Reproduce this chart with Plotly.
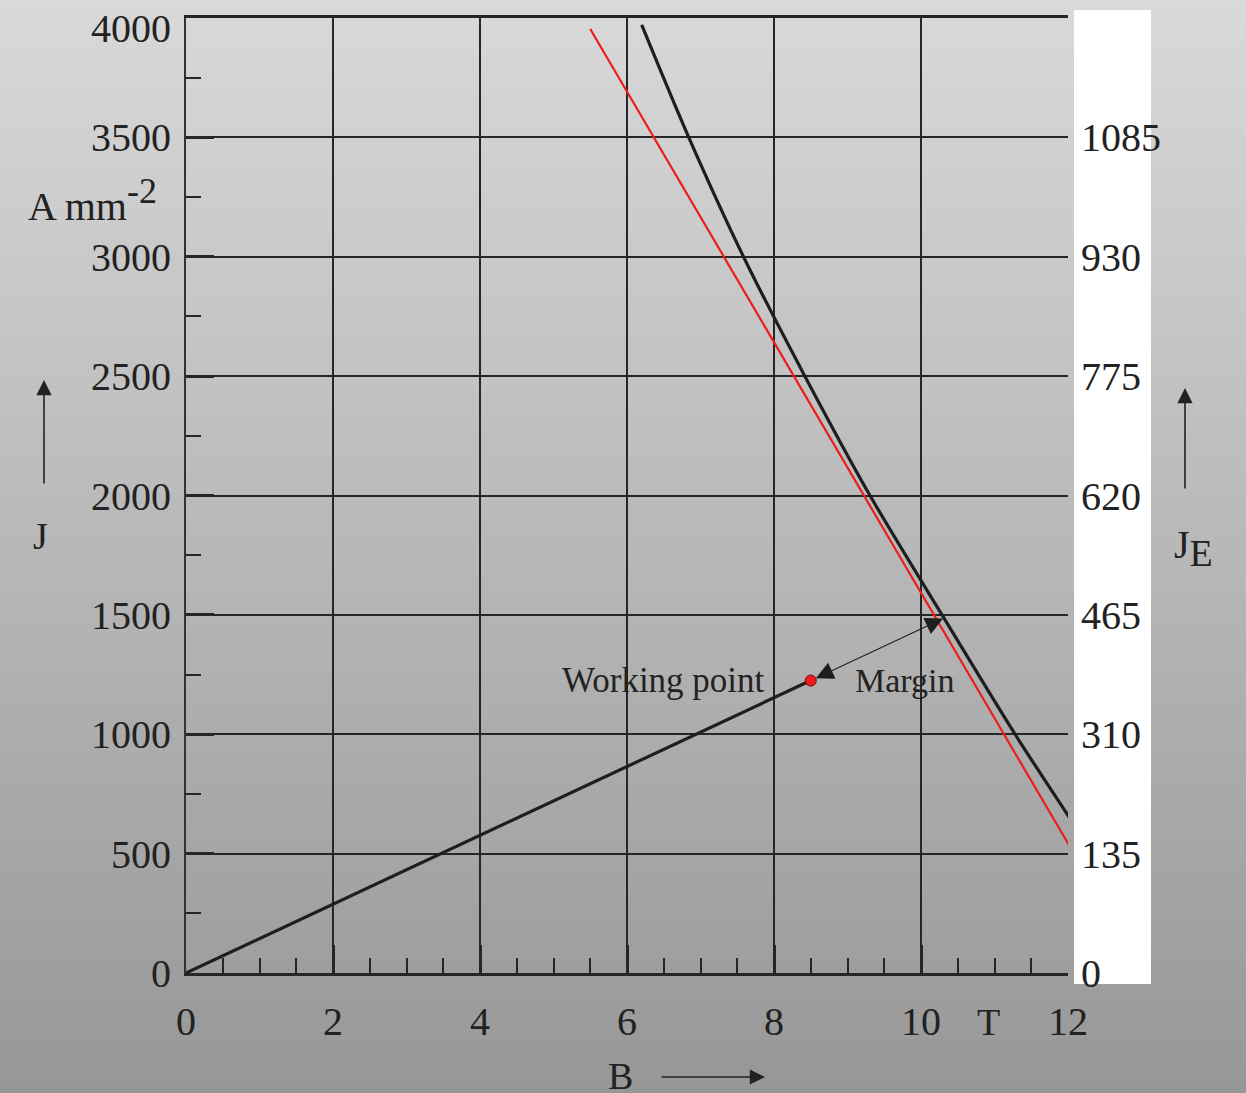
import numpy as np
import plotly.graph_objects as go

# ---------------- data ----------------
crit_B = [6.20, 6.84, 7.585, 8.42, 9.306, 10.286, 11.28, 12.07]
crit_J = [3971, 3500, 3000, 2500, 2000, 1500, 1000, 628]

approx_B = [5.50, 12.12]
approx_J = [3954, 480]

load_B = [0.0, 8.5]
load_J = [0.0, 1225.0]

work_B = 8.5
work_J = 1225.0

x_ticks = [0, 2, 4, 6, 8, 10, 12]
y_ticks = [0, 500, 1000, 1500, 2000, 2500, 3000, 3500, 4000]
je_ticks = [0, 500, 1000, 1500, 2000, 2500, 3000, 3500]
je_labels = ["0", "135", "310", "465", "620", "775", "930", "1085"]

# intersection of extended load line with critical curve
slope = load_J[1] / load_B[1]
bb = np.linspace(9.5, 11.0, 3001)
diff = np.interp(bb, crit_B, crit_J) - slope * bb
idx = np.argmin(np.abs(diff))
int_B = bb[idx]
int_J = slope * int_B

# ---------------- layout geometry ----------------
W, H = 1246, 1093
L, R, T, Bm = 186, 178, 18, 120
pw, ph = W - L - R, H - T - Bm


def px(x):
    return (x - L) / pw


def py(y):
    return (H - Bm - y) / ph


FONT = "Liberation Serif, Times New Roman, serif"
INK = "#222222"
TICKSIZE = 40

fig = go.Figure()

fig.add_trace(go.Scatter(x=approx_B, y=approx_J, mode="lines",
                         line=dict(color="#ee1c1c", width=2.2), showlegend=False))
fig.add_trace(go.Scatter(x=crit_B, y=crit_J, mode="lines", line_shape="spline",
                         line=dict(color="#1e1e1e", width=3.2, smoothing=0.8),
                         showlegend=False))
fig.add_trace(go.Scatter(x=load_B, y=load_J, mode="lines",
                         line=dict(color="#1e1e1e", width=3.2), showlegend=False))
fig.add_trace(go.Scatter(x=[work_B], y=[work_J], mode="markers",
                         marker=dict(color="#ee1c1c", size=11,
                                     line=dict(color="#7a0000", width=1)),
                         showlegend=False))
# invisible trace for right axis
fig.add_trace(go.Scatter(x=[0], y=[0], yaxis="y2", mode="markers",
                         marker=dict(opacity=0), showlegend=False, hoverinfo="skip"))

# background gradient
shapes = []
n = 120
top_y, bot_y = py(0), py(H)
for i in range(n):
    t0 = i / n
    t1 = (i + 1) / n
    c = int(round(217 - (217 - 151) * (t0 + t1) / 2))
    shapes.append(dict(type="rect", xref="paper", yref="paper",
                       x0=px(0), x1=px(W),
                       y0=top_y + (bot_y - top_y) * t0,
                       y1=top_y + (bot_y - top_y) * t1 - 0.0005,
                       fillcolor=f"rgb({c},{c},{c})", line=dict(width=0),
                       layer="below"))
shapes.append(dict(type="rect", xref="paper", yref="paper",
                   x0=px(1074), x1=px(1151), y0=py(984), y1=py(10),
                   fillcolor="white", line=dict(width=0), layer="below"))

ann = []
ann.append(dict(x=6.5, y=1227, xref="x", yref="y", text="Working point",
                showarrow=False, xanchor="center", yanchor="middle",
                font=dict(family=FONT, size=35, color=INK)))
ann.append(dict(x=9.78, y=1227, xref="x", yref="y", text="Margin",
                showarrow=False, xanchor="center", yanchor="middle",
                font=dict(family=FONT, size=34, color=INK)))
ann.append(dict(x=int_B, y=int_J, xref="x", yref="y",
                ax=work_B, ay=work_J, axref="x", ayref="y", text="",
                showarrow=True, arrowside="end+start", arrowhead=2, startarrowhead=2,
                arrowsize=3.2, startarrowsize=3.2, arrowwidth=1.1,
                arrowcolor="#1e1e1e", standoff=1, startstandoff=4))

# top tick label (shifted down as in the reference)
ann.append(dict(x=px(173), y=y_ticks[-1], xref="paper", yref="y",
                text=str(y_ticks[-1]), showarrow=False, xanchor="right",
                yanchor="middle", yshift=-10,
                font=dict(family=FONT, size=TICKSIZE, color=INK)))


def label(xp, yp, text, size=38):
    ann.append(dict(x=px(xp), y=py(yp), xref="paper", yref="paper", text=text,
                    showarrow=False, xanchor="center", yanchor="middle",
                    font=dict(family=FONT, size=size, color=INK)))


label(92, 200, "A mm<sup><span style='font-size:36px'>-2</span></sup>", 40)
label(40, 536, "J")
label(1193, 548, "J<sub><span style='font-size:38px'>E</span></sub>", 40)
label(620, 1076, "B")
label(988, 1022, "T")

# direction arrows
for (hx, hy, dx, dy) in [(44, 380, 0, 105), (1185, 388, 0, 102), (765, 1077, -105, 0)]:
    ann.append(dict(x=px(hx), y=py(hy), xref="paper", yref="paper",
                    ax=dx, ay=dy, text="", showarrow=True, arrowhead=2,
                    arrowsize=1.9, arrowwidth=1.6, arrowcolor=INK))

fig.update_layout(
    width=W, height=H,
    margin=dict(l=L, r=R, t=T, b=Bm, pad=0),
    paper_bgcolor="rgb(185,185,185)",
    plot_bgcolor="rgba(0,0,0,0)",
    shapes=shapes,
    annotations=ann,
    font=dict(family=FONT, color=INK),
    xaxis=dict(range=[0, 12], tickvals=x_ticks, ticktext=[str(v) for v in x_ticks],
               showgrid=True, gridcolor="#262626", gridwidth=1.8,
               zeroline=False, showline=True, linecolor="#262626", linewidth=2.5,
               mirror=True,
               ticks="inside", ticklen=28, tickwidth=2.5, tickcolor="#262626",
               minor=dict(dtick=0.5, tick0=0, ticks="inside", ticklen=15,
                          tickwidth=2, tickcolor="#262626", showgrid=False),
               tickfont=dict(family=FONT, size=TICKSIZE, color=INK),
               ticklabelstandoff=11, fixedrange=True),
    yaxis=dict(range=[0, 4000], tickvals=y_ticks[:-1],
               ticktext=[str(v) for v in y_ticks[:-1]],
               showgrid=True, gridcolor="#262626", gridwidth=1.8,
               zeroline=False, showline=True, linecolor="#333333", linewidth=1.8,
               ticks="inside", ticklen=28, tickwidth=2.5, tickcolor="#262626",
               minor=dict(dtick=250, tick0=0, ticks="inside", ticklen=15,
                          tickwidth=2, tickcolor="#262626", showgrid=False),
               tickfont=dict(family=FONT, size=TICKSIZE, color=INK),
               ticklabelstandoff=5, fixedrange=True),
    yaxis2=dict(range=[0, 4000], overlaying="y", side="right",
                tickvals=je_ticks, ticktext=je_labels, showgrid=False,
                zeroline=False, showline=False, ticks="",
                tickfont=dict(family=FONT, size=TICKSIZE, color=INK),
                ticklabelstandoff=12, fixedrange=True),
)

fig.write_html("out.html", config={"displayModeBar": False},
               post_script="document.body.style.margin='0';"
                           "document.body.style.overflow='hidden';")
